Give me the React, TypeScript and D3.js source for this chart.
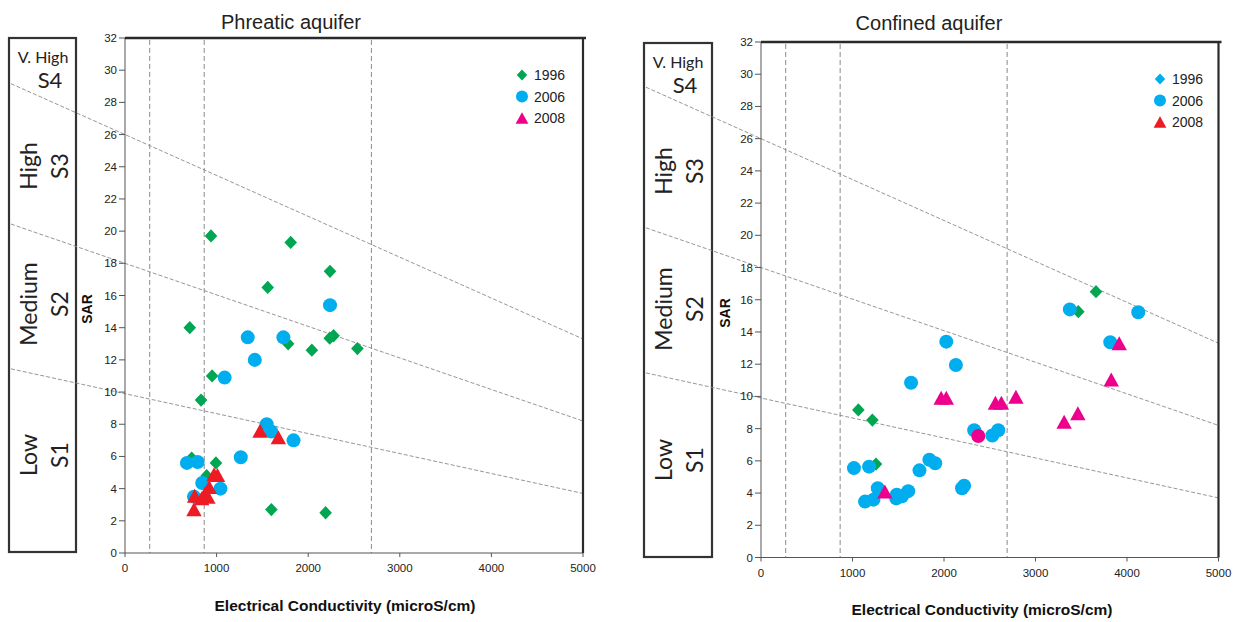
import React from "react";
import * as d3 from "d3";

// ---- axis ticks ----
const ecTicks = [0, 1000, 2000, 3000, 4000, 5000];
const sarTicks = [0, 2, 4, 6, 8, 10, 12, 14, 16, 18, 20, 22, 24, 26, 28, 30, 32];

// ---- salinity class limits (EC, microS/cm) ----
const ecClassLimits = [270, 865, 2690];

// ---- sodium hazard boundaries: SAR at EC = 0 and EC = 5000 ----
const sarBoundaryAtEc0 = [26.0, 18.0, 9.9];
const sarBoundaryAtEc5000 = [13.3, 8.2, 3.7];

// ---- sodium hazard classes ----
const hazardNames = ["High", "Medium", "Low"];
const hazardCodes = ["S3", "S2", "S1"];

// ---- legend ----
const legendYears = ["1996", "2006", "2008"];

// ---- Phreatic aquifer samples [EC, SAR] ----
const phreatic1996: [number, number][] = [
  [939, 19.7], [1809, 19.3], [2238, 17.5], [1558, 16.5], [707, 14.0],
  [1781, 13.0], [2040, 12.6], [2235, 13.35], [2277, 13.5], [2537, 12.7],
  [951, 11.0], [830, 9.5], [993, 5.6], [1598, 2.7], [2190, 2.5],
  [728, 5.9], [892, 4.8],
];
const phreatic2006: [number, number][] = [
  [2238, 15.4], [1340, 13.4], [1729, 13.4], [1417, 12.0], [1088, 10.9],
  [1547, 8.0], [1596, 7.55], [1840, 7.0], [1264, 5.95], [676, 5.6],
  [793, 5.65], [843, 4.35], [1042, 4.0], [753, 3.5],
];
const phreatic2008: [number, number][] = [
  [1474, 7.6], [1674, 7.2], [972, 4.9], [1010, 4.85], [920, 4.1],
  [873, 3.7], [837, 3.4], [760, 3.55], [753, 2.72], [905, 3.5],
];

// ---- Confined aquifer samples [EC, SAR] ----
const confined1996: [number, number][] = [
  [3661, 16.5], [3468, 15.26], [1064, 9.16], [1217, 8.53], [1257, 5.8],
];
const confined2006: [number, number][] = [
  [3375, 15.4], [4123, 15.22], [3817, 13.36], [2025, 13.4], [2130, 11.95],
  [1640, 10.85], [2330, 7.9], [2528, 7.57], [2593, 7.9], [1016, 5.55],
  [1181, 5.64], [1732, 5.41], [1840, 6.07], [1904, 5.85], [2220, 4.45],
  [2197, 4.3], [1276, 4.3], [1137, 3.47], [1229, 3.59], [1483, 3.9],
  [1478, 3.67], [1609, 4.12], [1540, 3.8],
];
const confined2008Circle: [number, number][] = [[2375, 7.54]];
const confined2008: [number, number][] = [
  [1969, 9.92], [2025, 9.92], [2562, 9.61], [2627, 9.61], [2786, 9.98],
  [3313, 8.43], [3463, 8.95], [3828, 11.05], [3915, 13.3], [1354, 4.09],
];

const GREEN = "#00a651";
const BLUE = "#00aeef";
const RED = "#ed1c24";
const MAGENTA = "#ec008c";

type Shape = "diamond" | "circle" | "triangle";

function markerPath(shape: Shape, cx: number, cy: number, s: number): string {
  if (shape === "diamond") {
    const h = s * 0.95;
    return `M${cx},${cy - h}L${cx + s * 0.9},${cy}L${cx},${cy + h}L${cx - s * 0.9},${cy}Z`;
  }
  if (shape === "triangle") {
    const w = s * 1.1;
    return `M${cx},${cy - s}L${cx + w},${cy + s}L${cx - w},${cy + s}Z`;
  }
  const p = d3.path();
  p.arc(cx, cy, s, 0, Math.PI * 2);
  return p.toString();
}

interface Series {
  data: [number, number][];
  shape: Shape;
  color: string;
}

interface PanelProps {
  title: string;
  titleX: number;
  titleY: number;
  x0: number;
  x1: number;
  yBottom: number;
  yTop: number;
  box: { x: number; y: number; w: number; h: number };
  series: Series[];
  legend: { shape: Shape; color: string }[];
  legendX: number;
  legendY: number;
  axisTitleX: number;
  axisTitleY: number;
  sarLabelX: number;
  sarLabelY: number;
}

function Panel(p: PanelProps) {
  const x = d3.scaleLinear().domain([0, 5000]).range([p.x0, p.x1]);
  const y = d3.scaleLinear().domain([0, 32]).range([p.yBottom, p.yTop]);
  const lineStartEc = x.invert(p.box.x + 2);
  const sarAt = (i: number, ec: number) =>
    sarBoundaryAtEc0[i] + ((sarBoundaryAtEc5000[i] - sarBoundaryAtEc0[i]) * ec) / 5000;

  const bx = p.box.x;
  const by = p.box.y;
  const hazardCenters = [128, 266, 417];
  const boxFont = "Lato, 'Open Sans', sans-serif";
  const axisFont = "'Liberation Sans', Arial, sans-serif";

  return (
    <g>
      <text x={p.titleX} y={p.titleY} textAnchor="middle" fontFamily={axisFont} fontSize={20} fill="#222">
        {p.title}
      </text>

      {/* sodium hazard class box */}
      <rect x={bx} y={by} width={p.box.w} height={p.box.h} fill="none" stroke="#333" strokeWidth={2.2} />
      <text x={bx + 34} y={by + 25} textAnchor="middle" fontFamily={boxFont} fontSize={16} fill="#222">
        V. High
      </text>
      <text x={bx + 41} y={by + 50} textAnchor="middle" fontFamily={boxFont} fontSize={22} fill="#222">
        S4
      </text>
      {hazardNames.map((name, i) => (
        <g key={name}>
          <text
            transform={`translate(${bx + 28},${by + hazardCenters[i]}) rotate(-90)`}
            textAnchor="middle"
            fontFamily={boxFont}
            fontSize={23}
            fill="#222"
          >
            {name}
          </text>
          <text
            transform={`translate(${bx + 59},${by + hazardCenters[i]}) rotate(-90)`}
            textAnchor="middle"
            fontFamily={boxFont}
            fontSize={23}
            fill="#222"
          >
            {hazardCodes[i]}
          </text>
        </g>
      ))}

      {/* salinity class limits */}
      {ecClassLimits.map((ec) => (
        <line
          key={ec}
          x1={x(ec)}
          x2={x(ec)}
          y1={y(32) + 2}
          y2={y(0)}
          stroke="#8a8a8a"
          strokeWidth={1}
          strokeDasharray="5,3"
        />
      ))}

      {/* sodium hazard boundaries */}
      {sarBoundaryAtEc0.map((_, i) => (
        <line
          key={i}
          x1={x(lineStartEc)}
          y1={y(sarAt(i, lineStartEc))}
          x2={x(5000)}
          y2={y(sarAt(i, 5000))}
          stroke="#8a8a8a"
          strokeWidth={0.9}
          strokeDasharray="4,2"
        />
      ))}

      {/* axes */}
      <line x1={p.x0} x2={p.x0} y1={p.yTop} y2={p.yBottom} stroke="#555" strokeWidth={1} />
      <line x1={p.x0} x2={p.x1} y1={p.yBottom} y2={p.yBottom} stroke="#555" strokeWidth={1} />
      <line x1={p.x0} x2={p.x1 + 3} y1={p.yTop} y2={p.yTop} stroke="#2a2a2a" strokeWidth={2.5} />
      <line x1={p.x1} x2={p.x1} y1={p.yTop} y2={p.yBottom} stroke="#2a2a2a" strokeWidth={2.2} />
      {sarTicks.map((t) => (
        <g key={t}>
          <line x1={p.x0 - 6} x2={p.x0} y1={y(t)} y2={y(t)} stroke="#555" />
          <text x={p.x0 - 8} y={y(t) + 4} textAnchor="end" fontFamily={axisFont} fontSize={11.5} fill="#222">
            {t}
          </text>
        </g>
      ))}
      {ecTicks.map((t) => (
        <g key={t}>
          <line x1={x(t)} x2={x(t)} y1={p.yBottom} y2={p.yBottom + 4} stroke="#555" />
          <text x={x(t)} y={p.yBottom + 19} textAnchor="middle" fontFamily={axisFont} fontSize={11.5} fill="#222">
            {t}
          </text>
        </g>
      ))}
      <text
        transform={`translate(${p.sarLabelX},${p.sarLabelY}) rotate(-90)`}
        textAnchor="middle"
        fontFamily={axisFont}
        fontWeight="bold"
        fontSize={14}
        fill="#111"
      >
        SAR
      </text>
      <text x={p.axisTitleX} y={p.axisTitleY} textAnchor="middle" fontFamily={axisFont} fontWeight="bold" fontSize={15.5} fill="#111">
        Electrical Conductivity (microS/cm)
      </text>

      {/* samples */}
      {p.series.map((s, si) =>
        s.data.map((d, i) => (
          <path
            key={`${si}-${i}`}
            d={markerPath(s.shape, x(d[0]), y(d[1]), s.shape === "circle" ? 7 : 7)}
            fill={s.color}
          />
        ))
      )}

      {/* legend */}
      {p.legend.map((l, i) => (
        <g key={i}>
          <path d={markerPath(l.shape, p.legendX, p.legendY + i * 21.5, l.shape === "circle" ? 6 : 5.8)} fill={l.color} />
          <text x={p.legendX + 12} y={p.legendY + i * 21.5 + 5} fontFamily={axisFont} fontSize={14} fill="#222">
            {legendYears[i]}
          </text>
        </g>
      ))}
    </g>
  );
}

export default function App() {
  return (
    <svg
      width={1237}
      height={622}
      viewBox="0 0 1237 622"
      style={{ position: "absolute", left: 0, top: 0, background: "#fff" }}
    >
      <rect width={1237} height={622} fill="#fff" />
      <Panel
        title="Phreatic aquifer"
        titleX={291}
        titleY={29}
        x0={125}
        x1={583}
        yBottom={553}
        yTop={38}
        box={{ x: 9, y: 38, w: 67, h: 514 }}
        series={[
          { data: phreatic1996, shape: "diamond", color: GREEN },
          { data: phreatic2006, shape: "circle", color: BLUE },
          { data: phreatic2008, shape: "triangle", color: RED },
        ]}
        legend={[
          { shape: "diamond", color: GREEN },
          { shape: "circle", color: BLUE },
          { shape: "triangle", color: MAGENTA },
        ]}
        legendX={522}
        legendY={75}
        axisTitleX={345}
        axisTitleY={611}
        sarLabelX={92}
        sarLabelY={309}
      />
      <Panel
        title="Confined aquifer"
        titleX={929}
        titleY={30}
        x0={761}
        x1={1218.5}
        yBottom={557.5}
        yTop={42}
        box={{ x: 644, y: 43, w: 68, h: 514 }}
        series={[
          { data: confined1996, shape: "diamond", color: GREEN },
          { data: confined2006, shape: "circle", color: BLUE },
          { data: confined2008Circle, shape: "circle", color: MAGENTA },
          { data: confined2008, shape: "triangle", color: MAGENTA },
        ]}
        legend={[
          { shape: "diamond", color: BLUE },
          { shape: "circle", color: BLUE },
          { shape: "triangle", color: RED },
        ]}
        legendX={1160}
        legendY={79}
        axisTitleX={982}
        axisTitleY={615}
        sarLabelX={730}
        sarLabelY={313}
      />
    </svg>
  );
}
